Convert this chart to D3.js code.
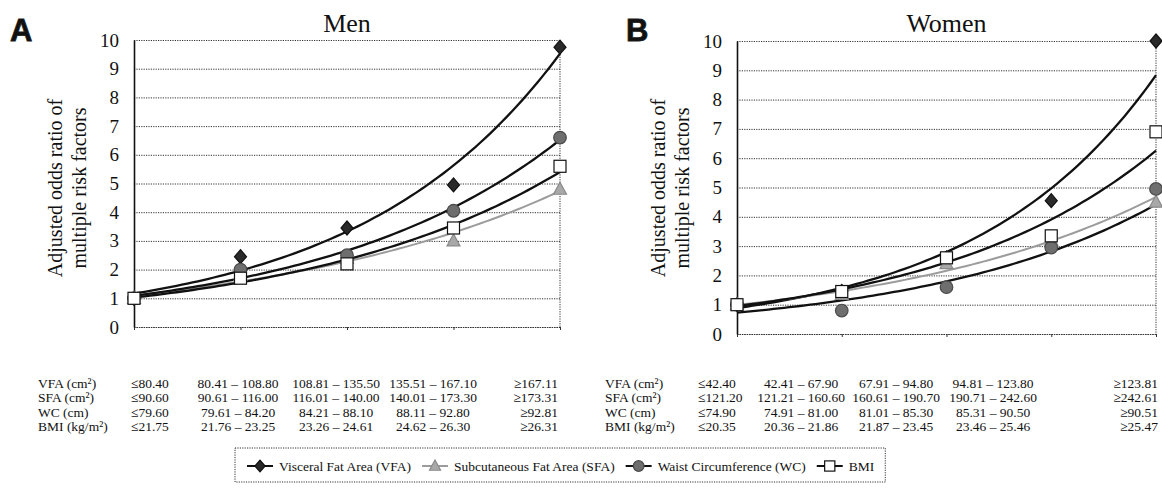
<!DOCTYPE html>
<html>
<head>
<meta charset="utf-8">
<script src="https://cdn.jsdelivr.net/npm/d3@7"></script>
<style>
body { margin: 0; background: #fff; }
text { font-family: "Liberation Serif", "Times New Roman", serif; fill: #111; }
</style>
</head>
<body>
<div id="container"></div>
<script>
// quintile categories (1 = lowest ... 5 = highest)
const categories = [1, 2, 3, 4, 5];
const seriesNames = ["Visceral Fat Area (VFA)", "Subcutaneous Fat Area (SFA)", "Waist Circumference (WC)", "BMI"];
const yTicks = [0, 1, 2, 3, 4, 5, 6, 7, 8, 9, 10];

// adjusted odds ratios
const menVFA = [1, 2.45, 3.45, 4.95, 9.75];
const menSFA = [1, 1.8, 2.4, 3.0, 4.8];
const menWC  = [1, 2.0, 2.5, 4.05, 6.6];
const menBMI = [1, 1.7, 2.2, 3.45, 5.6];

const womenVFA = [1, 1.45, 2.6, 4.55, 10.0];
const womenSFA = [1, 1.35, 2.4, 3.2, 4.5];
const womenWC  = [1, 0.8, 1.6, 2.95, 4.95];
const womenBMI = [1, 1.45, 2.6, 3.35, 6.9];

// cut-off table under each panel
const rowLabels = ["VFA (cm²)", "SFA (cm²)", "WC  (cm)", "BMI (kg/m²)"];
const menRanges = [
  ["≤80.40", "80.41 – 108.80", "108.81 – 135.50", "135.51 – 167.10", "≥167.11"],
  ["≤90.60", "90.61 – 116.00", "116.01 – 140.00", "140.01 – 173.30", "≥173.31"],
  ["≤79.60", "79.61 – 84.20", "84.21 – 88.10", "88.11 – 92.80", "≥92.81"],
  ["≤21.75", "21.76 – 23.25", "23.26 – 24.61", "24.62 – 26.30", "≥26.31"]
];
const womenRanges = [
  ["≤42.40", "42.41 – 67.90", "67.91 – 94.80", "94.81 – 123.80", "≥123.81"],
  ["≤121.20", "121.21 – 160.60", "160.61 – 190.70", "190.71 – 242.60", "≥242.61"],
  ["≤74.90", "74.91 – 81.00", "81.01 – 85.30", "85.31 – 90.50", "≥90.51"],
  ["≤20.35", "20.36 – 21.86", "21.87 – 23.45", "23.46 – 25.46", "≥25.47"]
];

let svg = d3.select("#container")
  .append("svg")
    .attr("width", 1162)
    .attr("height", 496);

// marker styles per series
const styles = [
  { shape: "diamond",  fill: "#2a2a2a", stroke: "#111", line: "#111", width: 2.3 },
  { shape: "triangle", fill: "#a8a8a8", stroke: "#8a8a8a", line: "#9c9c9c", width: 2 },
  { shape: "circle",   fill: "#6e6e6e", stroke: "#4a4a4a", line: "#111", width: 2.3 },
  { shape: "square",   fill: "#fff",    stroke: "#111", line: "#111", width: 2.3 }
];

function drawMarker(sel, st, s) {
  if (st.shape == "diamond") {
    sel.append("path").attr("d", `M0,${-7*s}L${6*s},0L0,${7*s}L${-6*s},0Z`);
  } else if (st.shape == "triangle") {
    sel.append("path").attr("d", `M0,${-7*s}L${6.5*s},${5*s}L${-6.5*s},${5*s}Z`);
  } else if (st.shape == "circle") {
    sel.append("circle").attr("r", 6.3*s);
  } else {
    sel.append("rect").attr("x", -6*s).attr("y", -6*s).attr("width", 12*s).attr("height", 12*s);
  }
  sel.selectAll("path,circle,rect")
    .attr("fill", st.fill)
    .attr("stroke", st.stroke)
    .attr("stroke-width", 1.2);
}

// exponential trendline (least squares on ln y), like the spreadsheet one
function expFit(vals) {
  let n = vals.length;
  let mx = d3.mean(categories);
  let ly = vals.map(v => Math.log(v));
  let my = d3.mean(ly);
  let num = 0, den = 0;
  for (let i = 0; i < n; i++) {
    num += (categories[i] - mx) * (ly[i] - my);
    den += (categories[i] - mx) * (categories[i] - mx);
  }
  let b = num / den;
  let a = my - b * mx;
  return c => Math.exp(a + b * c);
}

function drawPanel(p) {
  let x = d3.scaleLinear().domain([1, 5]).range([p.left, p.right]);
  let y = d3.scaleLinear().domain([0, 10]).range([p.bottom, p.top]);
  let g = svg.append("g");

  // dotted gridlines
  g.append("g")
    .attr("transform", `translate(${p.left},0)`)
    .call(d3.axisLeft(y).tickValues(yTicks).tickSize(-(p.right - p.left)).tickFormat(""))
    .call(s => s.select(".domain").remove())
    .call(s => s.selectAll("line").attr("stroke", "#333").attr("stroke-width", 1).attr("stroke-dasharray", "1.2,1.2"));

  // right edge
  g.append("line")
    .attr("x1", p.right).attr("x2", p.right)
    .attr("y1", p.top).attr("y2", p.bottom)
    .attr("stroke", "#333")
    .attr("stroke-dasharray", "1.2,1.2");

  // bottom axis, small ticks only
  g.append("g")
    .attr("transform", `translate(0,${p.bottom})`)
    .call(d3.axisBottom(x).tickValues(categories).tickSize(3).tickFormat(""))
    .call(s => s.select(".domain").attr("stroke", "#333").attr("stroke-dasharray", "1.2,1.2"))
    .call(s => s.selectAll("line").attr("stroke", "#333"));

  // left axis with numbers
  let ax = g.append("g")
    .attr("transform", `translate(${p.left},0)`)
    .call(d3.axisLeft(y).tickValues(yTicks).tickSize(0).tickPadding(15).tickSizeOuter(0));
  ax.select(".domain").attr("stroke", "#111").attr("stroke-width", 1.6);
  ax.selectAll("text")
    .attr("font-size", 19)
    .attr("fill", "#111");

  // title and panel letter
  g.append("text")
    .attr("x", (p.left + p.right) / 2)
    .attr("y", 32)
    .attr("text-anchor", "middle")
    .attr("font-size", 26)
    .text(p.title);

  g.append("text")
    .attr("x", p.letterX)
    .attr("y", 41)
    .style("font-family", "Liberation Sans, Arial, sans-serif")
    .attr("font-weight", "bold")
    .attr("font-size", 31)
    .attr("fill", "#1a1a1a")
    .attr("stroke", "#1a1a1a")
    .attr("stroke-width", 0.8)
    .text(p.letter);

  // y axis title, two rotated lines
  [["Adjusted odds ratio of", 79], ["multiple risk factors", 55]].forEach(t => {
    g.append("text")
      .attr("transform", `translate(${p.left - t[1]},188) rotate(-90)`)
      .attr("text-anchor", "middle")
      .attr("dominant-baseline", "central")
      .attr("font-size", 20)
      .text(t[0]);
  });

  // trendlines
  let xs = d3.range(1, 5.001, 0.05);
  p.series.forEach((vals, i) => {
    let f = expFit(vals);
    g.append("path")
      .datum(xs)
      .attr("d", d3.line().x(c => x(c)).y(c => y(f(c))))
      .attr("fill", "none")
      .attr("stroke", styles[i].line)
      .attr("stroke-width", styles[i].width);
  });

  // markers
  p.series.forEach((vals, i) => {
    let pts = g.selectAll(".pt" + i).data(vals).enter()
      .append("g")
        .attr("class", "pt" + i)
        .attr("transform", (d, j) => `translate(${x(categories[j])},${y(d)})`);
    pts.each(function() { drawMarker(d3.select(this), styles[i], 1); });
  });

  // cut-off table
  let rowY = [388, 402, 417, 431];
  rowLabels.forEach((lab, r) => {
    g.append("text").attr("x", p.tableX[0]).attr("y", rowY[r]).attr("font-size", 13.5).text(lab);
    p.ranges[r].forEach((txt, c) => {
      let anchor = c == 0 ? "start" : (c == 4 ? "end" : "middle");
      g.append("text")
        .attr("x", p.tableX[c + 1])
        .attr("y", rowY[r])
        .attr("text-anchor", anchor)
        .attr("font-size", 13.5)
        .text(txt);
    });
  });
}

drawPanel({
  title: "Men", letter: "A", letterX: 10,
  left: 134, right: 560, top: 40, bottom: 327,
  series: [menVFA, menSFA, menWC, menBMI],
  ranges: menRanges,
  tableX: [38, 131, 238, 336, 433, 558]
});

drawPanel({
  title: "Women", letter: "B", letterX: 626,
  left: 737, right: 1156, top: 41, bottom: 334,
  series: [womenVFA, womenSFA, womenWC, womenBMI],
  ranges: womenRanges,
  tableX: [605, 698, 801, 896, 993, 1158]
});

// legend
let legend = svg.append("g");
let lx = 247;
let ly = 466;
seriesNames.forEach((name, i) => {
  legend.append("line")
    .attr("x1", lx).attr("x2", lx + 26)
    .attr("y1", ly).attr("y2", ly)
    .attr("stroke", styles[i].line)
    .attr("stroke-width", 2);
  let m = legend.append("g").attr("transform", `translate(${lx + 13},${ly})`);
  drawMarker(m, styles[i], 0.85);
  let t = legend.append("text")
    .attr("x", lx + 32)
    .attr("y", ly + 4.5)
    .attr("font-size", 13.5)
    .text(name);
  lx += 32 + t.node().getComputedTextLength() + 11;
});
legend.insert("rect", ":first-child")
  .attr("x", 235).attr("y", 448)
  .attr("width", lx - 235)
  .attr("height", 34)
  .attr("fill", "#fff")
  .attr("stroke", "#333")
  .attr("stroke-dasharray", "1.2,1.2");
</script>
</body>
</html>
